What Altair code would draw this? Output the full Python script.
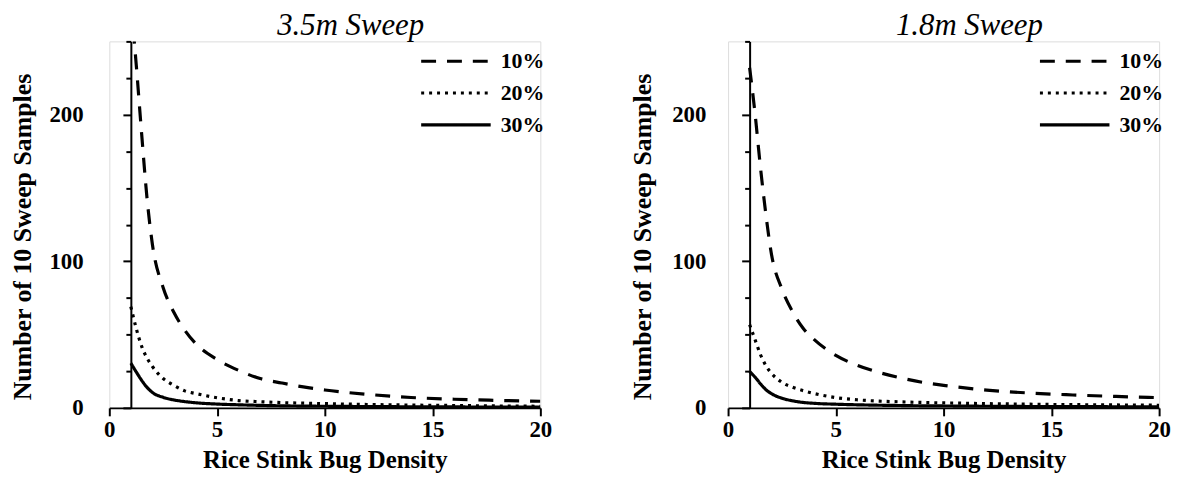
import altair as alt
import pandas as pd

# x positions (Rice Stink Bug Density)
x_vals = [1, 1.25, 1.5, 1.75, 2, 2.5, 3, 3.5, 4, 5, 6, 7, 8, 9, 10, 12, 14, 16, 18, 20]

# 3.5m sweep panel
p1_10 = [276, 234, 187, 143, 111.5, 82, 65, 53, 44, 33, 25.6, 20, 17, 14.3, 12.2, 9.2, 7.1, 5.9, 5.1, 4.5]
p1_20 = [69, 54.2, 42, 34, 28.2, 20, 15.3, 11.6, 9.8, 6.9, 5.0, 4.2, 3.6, 3.2, 2.9, 2.3, 1.9, 1.6, 1.3, 1.1]
p1_30 = [30.5, 24.5, 18.8, 14.0, 10.5, 7.2, 5.4, 4.3, 3.5, 2.6, 2.1, 1.7, 1.4, 1.2, 1.1, 0.9, 0.75, 0.65, 0.55, 0.5]

# 1.8m sweep panel
p2_10 = [232, 201, 164.5, 132.5, 106, 81, 65.4, 54, 46.6, 35.8, 29, 24.2, 20.5, 17.5, 15.4, 12.1, 10.1, 8.8, 7.8, 7.0]
p2_20 = [56.8, 46.6, 36.5, 28.9, 23.8, 17.4, 14, 11.7, 9.8, 7.0, 5.5, 4.6, 4.1, 3.7, 3.4, 2.9, 2.5, 2.2, 2.0, 1.8]
p2_30 = [24.8, 21, 16.5, 12.5, 9.8, 6.6, 4.8, 3.7, 3.1, 2.5, 2.1, 1.8, 1.6, 1.4, 1.3, 1.1, 0.95, 0.85, 0.78, 0.7]

levels = ["10%", "20%", "30%"]
titles = ["3.5m Sweep", "1.8m Sweep"]
x_ticks = [0, 5, 10, 15, 20]
y_ticks = list(range(0, 251, 25))

FONT = "Liberation Serif"
W, H = 434, 369


def frame(series):
    rows = []
    for lev, ys in zip(levels, series):
        for xv, yv in zip(x_vals, ys):
            rows.append({"x": xv, "y": yv, "level": lev})
    return pd.DataFrame(rows)


def panel(series, title, label_pad, title_pad, legend_x, legend_y):
    df = frame(series)
    px_per_unit = W / 20.0
    return (
        alt.Chart(df)
        .mark_line(clip=True, color="black", strokeWidth=3.2, interpolate="monotone")
        .encode(
            x=alt.X(
                "x:Q",
                scale=alt.Scale(domain=[0, 20], nice=False, zero=False),
                axis=alt.Axis(
                    values=x_ticks, grid=False, title="Rice Stink Bug Density",
                    domainColor="black", domainWidth=2, tickColor="black", tickWidth=2,
                    tickSize=8, labelFont=FONT, labelFontSize=23, labelFontWeight="bold",
                    labelColor="black", labelPadding=3, titleFont=FONT, titleFontSize=25,
                    titleFontWeight="bold", titleColor="black", titlePadding=6,
                    labelFlush=False,
                ),
            ),
            y=alt.Y(
                "y:Q",
                scale=alt.Scale(domain=[0, 250], nice=False),
                axis=alt.Axis(
                    values=y_ticks, grid=False, title="Number of 10 Sweep Samples",
                    offset=-px_per_unit,
                    labelExpr="datum.value % 100 === 0 ? datum.label : ''",
                    domainColor="black", domainWidth=2, tickColor="black", tickWidth=2,
                    tickSize={"condition": {"test": "datum.value % 100 === 0", "value": 8}, "value": 5},
                    labelFont=FONT, labelFontSize=23, labelFontWeight="bold",
                    labelColor="black", labelPadding=label_pad, titleFont=FONT,
                    titleFontSize=26, titleFontWeight="bold", titleColor="black",
                    titlePadding=title_pad, titleY=H / 2 + 12, labelFlush=False,
                ),
            ),
            strokeDash=alt.StrokeDash(
                "level:N",
                scale=alt.Scale(domain=levels, range=[[15, 11], [3, 5], [1, 0]]),
                legend=alt.Legend(
                    title=None, orient="none", legendX=legend_x, legendY=legend_y,
                    symbolType="stroke", symbolSize=4900, symbolStrokeWidth=3.2,
                    symbolStrokeColor="black", labelFont=FONT, labelFontSize=22,
                    labelFontWeight="bold", labelColor="black", labelOffset=8,
                    clipHeight=22, rowPadding=10,
                ),
            ),
        )
        .properties(
            width=W, height=H,
            title=alt.TitleParams(
                title, font=FONT, fontSize=31, fontStyle="italic", fontWeight="normal",
                color="black", anchor="middle", dx=26, offset=-2,
            ),
        )
    )


left = panel([p1_10, p1_20, p1_30], titles[0], 40, 14, 312, 9)
right = panel([p2_10, p2_20, p2_30], titles[1], 36, 16, 312, 9)

chart = (
    alt.hconcat(left, right, spacing=77)
    .resolve_scale(strokeDash="independent")
    .resolve_legend(strokeDash="independent")
    .configure_view(stroke=None)
    .configure(background="white")
    .properties(padding={"top": 0, "left": 0, "right": 5, "bottom": 5})
)

chart.save("out.html", embed_options={"renderer": "svg", "actions": False})
